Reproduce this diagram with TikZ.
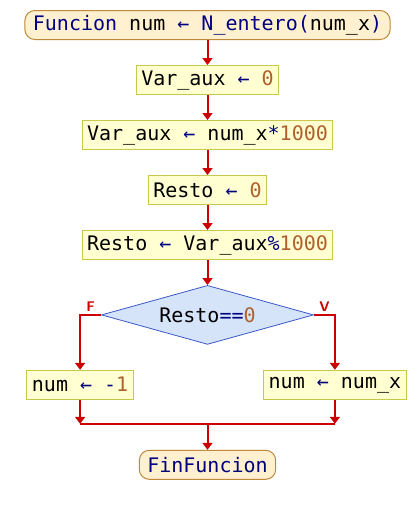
\documentclass[tikz,border=0pt]{standalone}
\usepackage{fontspec}
\setmonofont{DejaVu Sans Mono}
\usepackage{xcolor}
\usepackage{tikz}
\usetikzlibrary{shapes, arrows.meta, positioning}

\definecolor{flowred}{HTML}{CC0000}
\definecolor{boxfill}{HTML}{FFFFD2}
\definecolor{boxline}{HTML}{C8C84A}
\definecolor{termfill}{HTML}{FFF0D0}
\definecolor{termline}{HTML}{C0883A}
\definecolor{decfill}{HTML}{D6E4FA}
\definecolor{decline}{HTML}{3A58C8}
\definecolor{kwblue}{HTML}{000080}
\definecolor{nmbbrown}{HTML}{B0602C}

\newcommand{\kw}[1]{\textcolor{kwblue}{#1}}
\newcommand{\nmb}[1]{\textcolor{nmbbrown}{#1}}
\newcommand{\asg}{\textcolor{kwblue}{←}}

\begin{document}
\begin{tikzpicture}[
    node distance=25pt,
    font=\ttfamily\fontsize{20}{24}\selectfont,
    block/.style={rectangle, draw=boxline, fill=boxfill, line width=1pt, inner xsep=5pt, inner ysep=0pt, minimum height=29pt},
    term/.style={rectangle, draw=termline, fill=termfill, line width=1pt, rounded corners=10pt, inner xsep=8pt, inner ysep=0pt, minimum height=29pt},
    decision/.style={diamond, draw=decline, fill=decfill, line width=0.8pt, aspect=3.5, inner sep=0pt, minimum width=212pt, minimum height=59pt},
    tag/.style={text=flowred, font=\sffamily\bfseries\fontsize{14}{14}\selectfont, inner sep=2pt},
    line/.style={draw=flowred, line width=2pt},
    flow/.style={line, -{Triangle[width=10pt,length=7pt]}}
]
    \useasboundingbox (0pt,0pt) rectangle (418pt,-515pt);

    % Nodes
    \node [term] (start) at (207.5pt,-25pt) {\kw{Funcion} num \asg{} \kw{N\_entero(}num\_x\kw{)}};
    \node [block, below=of start] (aux1) {Var\_aux \asg{} \nmb{0}};
    \node [block, below=of aux1] (aux2) {Var\_aux \asg{} num\_x\kw{*}\nmb{1000}};
    \node [block, below=of aux2] (rest1) {Resto \asg{} \nmb{0}};
    \node [block, below=of rest1] (rest2) {Resto \asg{} Var\_aux\kw{\%}\nmb{1000}};
    \node [decision, below=of rest2] (dec) {Resto\kw{==}\nmb{0}};

    \coordinate (fl) at ([xshift=-21pt]dec.west);
    \coordinate (vr) at ([xshift=21pt]dec.east);
    \coordinate (fdown) at (fl |- dec.south);
    \coordinate (vdown) at (vr |- dec.south);

    \node [block, below=of fdown] (neg) {num \asg{} \kw{-}\nmb{1}};
    \node [block, below=of vdown] (pos) {num \asg{} num\_x};

    \coordinate (jl) at ([yshift=-24pt]neg.south);
    \coordinate (jr) at (jl -| pos.south);
    \coordinate (jm) at (jl -| dec.south);

    \node [term, below=26pt of jm] (fin) {\kw{FinFuncion}};

    % Paths
    \path [flow] (start) -- (aux1);
    \path [flow] (aux1) -- (aux2);
    \path [flow] (aux2) -- (rest1);
    \path [flow] (rest1) -- (rest2);
    \path [flow] (rest2) -- (dec);
    \path [flow] (dec.west) -- (fl) node [tag, midway, above] (flbl) {F} -- (neg);
    \path [flow] (dec.east) -- (vr) node [tag, midway, above] (vlbl) {V} -- (pos);
    \path [flow] (neg) -- (jl);
    \path [flow] (pos) -- (jr);
    \path [line] (jl) -- (jr);
    \path [flow] (jm) -- (fin);

\end{tikzpicture}
\end{document}
